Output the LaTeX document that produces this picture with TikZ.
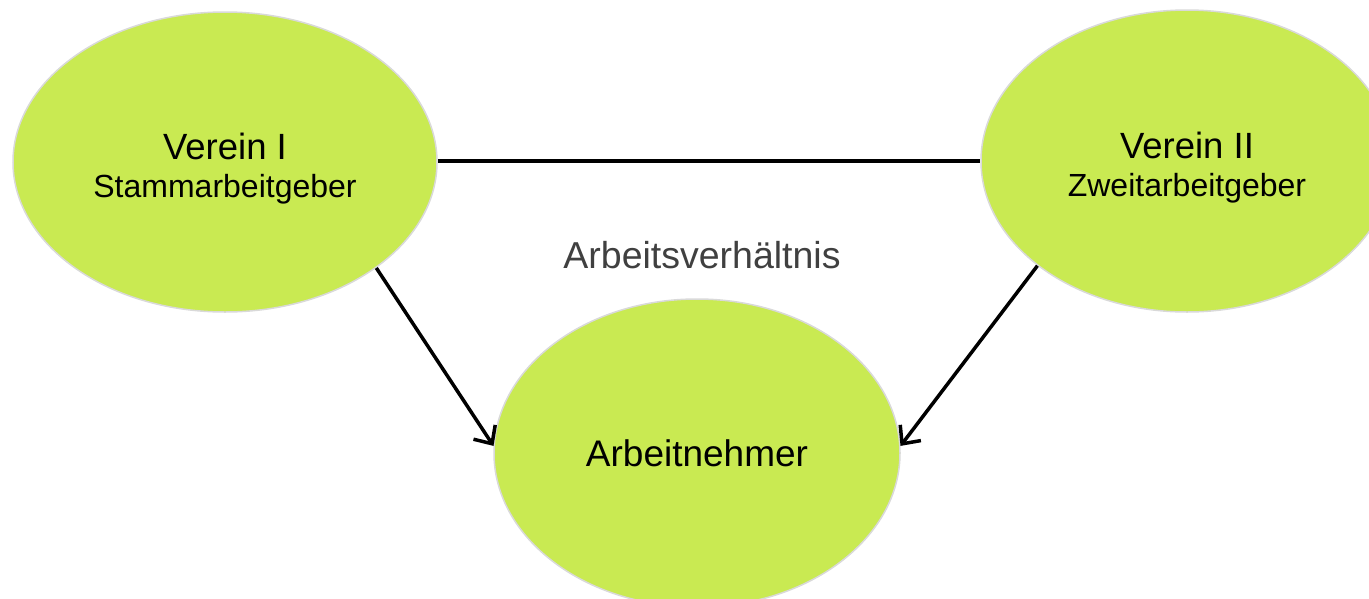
\documentclass[tikz,border=0pt]{standalone}
\usepackage{fontspec}
\setmainfont{Liberation Sans}
\usetikzlibrary{shapes.geometric,arrows.meta}
\definecolor{blobgreen}{HTML}{C9EA52}
\definecolor{blobedge}{HTML}{D9D9D9}
\definecolor{labelgray}{HTML}{404040}
\tikzset{
  blob/.style={ellipse, fill=blobgreen, draw=blobedge, line width=1.5pt, inner sep=0pt, align=center, font=\fontsize{32}{38}\selectfont},
  conn/.style={line width=3.5pt, black},
  arr/.style={conn, -{Straight Barb[length=14pt,width=26pt,line width=3.5pt]}},
}
\begin{document}
\begin{tikzpicture}[x=1pt,y=-1pt]
\useasboundingbox (0,0) rectangle (1369,598);
\node[blob, minimum width=424pt, minimum height=300pt] (v1) at (225,162)
  {\rule{0pt}{39pt}{\fontsize{36.5}{38}\selectfont Verein I}\\{\fontsize{32}{38}\selectfont Stammarbeitgeber}};
\node[blob, minimum width=412pt, minimum height=302pt] (v2) at (1187,161)
  {\rule{0pt}{39pt}{\fontsize{36.5}{38}\selectfont Verein II}\\{\fontsize{32}{38}\selectfont Zweitarbeitgeber}};
\node[blob, minimum width=406pt, minimum height=308pt] (an) at (697,453)
  {\fontsize{37}{40}\selectfont Arbeitnehmer};
\node[text=labelgray, font=\fontsize{37.5}{40}\selectfont] (av) at (702,255) {Arbeitsverhältnis};
\draw[conn] (v1.east |- 0,161) -- (v2.west |- 0,161);
\draw[arr] (v1.-35) -- (an.178);
\draw[arr] (v2.-145) -- (an.2);
\end{tikzpicture}
\end{document}
